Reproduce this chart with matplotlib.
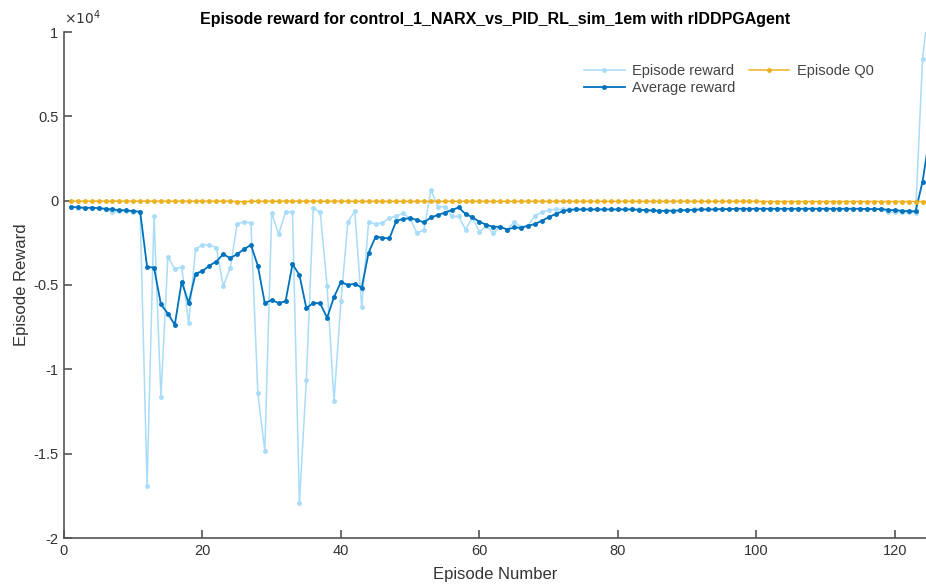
import matplotlib
matplotlib.use("Agg")
from matplotlib import pyplot as plt
from matplotlib.ticker import FuncFormatter

plt.rcParams['font.family'] = ['Liberation Sans', 'DejaVu Sans']
plt.rcParams['axes.unicode_minus'] = False

# reward per episode, in units of 1e4
episode_reward = [
    -0.036, -0.044, -0.044, -0.044, -0.046, -0.050, -0.070, -0.062, -0.060, -0.066,
    -0.070, -1.690, -0.090, -1.165, -0.333, -0.405, -0.393, -0.728, -0.288, -0.262,
    -0.262, -0.278, -0.506, -0.401, -0.139, -0.125, -0.133, -1.143, -1.482, -0.073,
    -0.198, -0.067, -0.067, -1.794, -1.065, -0.046, -0.067, -0.506, -1.187, -0.595,
    -0.127, -0.062, -0.629, -0.125, -0.139, -0.131, -0.103, -0.091, -0.075, -0.107,
    -0.194, -0.171, 0.065, -0.036, -0.036, -0.093, -0.093, -0.171, -0.099, -0.185,
    -0.149, -0.190, -0.155, -0.171, -0.127, -0.155, -0.149, -0.089, -0.069, -0.055,
    -0.052, -0.052, -0.052, -0.052, -0.052, -0.052, -0.052, -0.052, -0.052, -0.052,
    -0.052, -0.052, -0.052, -0.064, -0.058, -0.064, -0.058, -0.058, -0.058, -0.054,
    -0.052, -0.052, -0.052, -0.052, -0.050, -0.050, -0.048, -0.048, -0.048, -0.048,
    -0.048, -0.048, -0.048, -0.048, -0.048, -0.048, -0.048, -0.048, -0.048, -0.048,
    -0.048, -0.048, -0.048, -0.048, -0.048, -0.050, -0.050, -0.050, -0.066, -0.068,
    -0.070, -0.070, -0.072, 0.840, 1.200,
]

average_reward = [
    -0.036, -0.040, -0.042, -0.042, -0.044, -0.048, -0.052, -0.056, -0.058, -0.062,
    -0.065, -0.393, -0.397, -0.615, -0.669, -0.736, -0.480, -0.607, -0.433, -0.417,
    -0.385, -0.361, -0.317, -0.341, -0.317, -0.288, -0.262, -0.387, -0.607, -0.589,
    -0.607, -0.597, -0.377, -0.440, -0.637, -0.607, -0.609, -0.694, -0.571, -0.482,
    -0.500, -0.492, -0.516, -0.308, -0.214, -0.220, -0.224, -0.119, -0.109, -0.104,
    -0.114, -0.129, -0.099, -0.085, -0.071, -0.056, -0.040, -0.079, -0.099, -0.125,
    -0.143, -0.155, -0.155, -0.171, -0.159, -0.161, -0.149, -0.139, -0.119, -0.099,
    -0.079, -0.063, -0.054, -0.052, -0.052, -0.052, -0.052, -0.052, -0.052, -0.052,
    -0.052, -0.052, -0.054, -0.056, -0.058, -0.060, -0.060, -0.060, -0.058, -0.056,
    -0.054, -0.052, -0.052, -0.052, -0.050, -0.050, -0.048, -0.048, -0.048, -0.048,
    -0.048, -0.048, -0.048, -0.048, -0.048, -0.048, -0.048, -0.048, -0.048, -0.048,
    -0.048, -0.048, -0.048, -0.048, -0.048, -0.050, -0.050, -0.050, -0.054, -0.057,
    -0.060, -0.062, -0.063, 0.113, 0.380,
]

episode_q0 = [
    -0.003, -0.003, -0.003, -0.003, -0.003, -0.003, -0.003, -0.003, -0.003, -0.003,
    -0.003, -0.003, -0.003, -0.003, -0.003, -0.003, -0.003, -0.003, -0.003, -0.003,
    -0.003, -0.003, -0.003, -0.003, -0.005, -0.006, -0.004, -0.003, -0.004, -0.003,
    -0.004, -0.002, -0.003, -0.003, -0.003, -0.003, -0.003, -0.004, -0.003, -0.003,
    -0.004, -0.004, -0.004, -0.004, -0.004, -0.004, -0.004, -0.004, -0.004, -0.004,
    -0.004, -0.004, -0.004, -0.004, -0.004, -0.004, -0.004, -0.004, -0.004, -0.004,
    -0.004, -0.004, -0.004, -0.004, -0.004, -0.004, -0.004, -0.004, -0.004, -0.004,
    -0.004, -0.004, -0.004, -0.004, -0.004, -0.004, -0.004, -0.004, -0.004, -0.004,
    -0.004, -0.004, -0.004, -0.004, -0.004, -0.004, -0.004, -0.004, -0.004, -0.004,
    -0.004, -0.004, -0.004, -0.004, -0.004, -0.004, -0.004, -0.004, -0.004, -0.004,
    -0.005, -0.005, -0.005, -0.005, -0.005, -0.005, -0.005, -0.005, -0.005, -0.005,
    -0.005, -0.005, -0.005, -0.005, -0.005, -0.005, -0.005, -0.005, -0.005, -0.005,
    -0.005, -0.005, -0.005, -0.005, -0.005,
]

x_ticks = [0, 20, 40, 60, 80, 100, 120]
y_ticks = [-2, -1.5, -1, -0.5, 0, 0.5, 1]

episodes = list(range(1, len(episode_reward) + 1))
scale = 1e4

fig = plt.figure(figsize=(9.26, 5.84), dpi=100)
ax = fig.add_axes([64 / 926, 46 / 584, 862 / 926, 506 / 584])

ax.plot(episodes, [v * scale for v in episode_reward], color='#a9dcf8', lw=1.1,
        marker='.', ms=5, label='Episode reward')
ax.plot(episodes, [v * scale for v in average_reward], color='#0072bd', lw=1.3,
        marker='.', ms=5, label='Average reward')
ax.plot(episodes, [v * scale for v in episode_q0], color='#edb120', lw=1.1,
        marker='.', ms=5, label='Episode Q0')

ax.set_xlim(0, 124.5)
ax.set_ylim(-2 * scale, 1 * scale)
ax.set_xticks(x_ticks)
ax.set_yticks([t * scale for t in y_ticks])
# MATLAB-style exponent: plain tick values plus a x10^4 note above the axis
ax.yaxis.set_major_formatter(FuncFormatter(lambda v, pos: '%g' % (v / scale)))
ax.text(0.0, 1.01, r'$\times10^{4}$', transform=ax.transAxes, fontsize=10,
        color='#333333', ha='left', va='bottom')

for side in ('top', 'right'):
    ax.spines[side].set_visible(False)
for side in ('left', 'bottom'):
    ax.spines[side].set_color('#555555')
    ax.spines[side].set_linewidth(1.2)
ax.tick_params(direction='in', length=6, width=1.2, color='#555555',
               labelcolor='#333333', labelsize=10.5, pad=4)

ax.set_xlabel('Episode Number', fontsize=12, color='#333333', labelpad=7)
ax.set_ylabel('Episode Reward', fontsize=12, color='#333333', labelpad=3)
ax.set_title('Episode reward for control_1_NARX_vs_PID_RL_sim_1em with rlDDPGAgent',
             fontsize=11.5, fontweight='bold', pad=6)

leg = ax.legend(ncol=2, loc='upper left', bbox_to_anchor=(0.588, 0.962),
                frameon=False, fontsize=10.5, handlelength=2.8,
                columnspacing=0.9, labelspacing=0.2, handletextpad=0.5)
for t in leg.get_texts():
    t.set_color('#444444')

fig.savefig('out.png', dpi=100)
